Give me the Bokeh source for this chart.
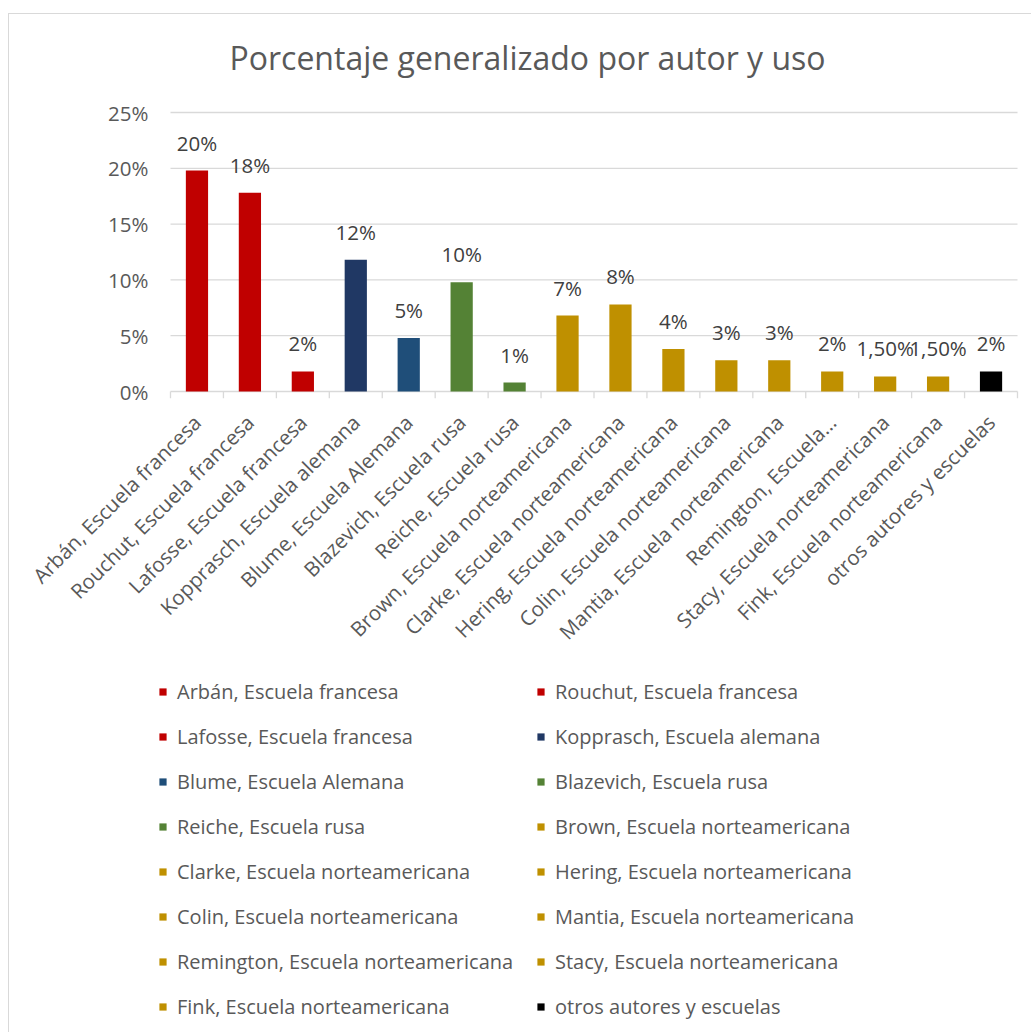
import math
from bokeh.plotting import figure
from bokeh.layouts import column
from bokeh.models import (ColumnDataSource, Range1d, FixedTicker, NumeralTickFormatter,
                          Legend, LegendItem, Label, InlineStyleSheet)
from bokeh.core.properties import value
from bokeh.embed import file_html
from bokeh.resources import INLINE

# ---------------- data ----------------
categories = [
    "Arbán, Escuela francesa",
    "Rouchut, Escuela francesa",
    "Lafosse, Escuela francesa",
    "Kopprasch, Escuela alemana",
    "Blume, Escuela Alemana",
    "Blazevich, Escuela rusa",
    "Reiche, Escuela rusa",
    "Brown, Escuela norteamericana",
    "Clarke, Escuela norteamericana",
    "Hering, Escuela norteamericana",
    "Colin, Escuela norteamericana",
    "Mantia, Escuela norteamericana",
    "Remington, Escuela norteamericana",
    "Stacy, Escuela norteamericana",
    "Fink, Escuela norteamericana",
    "otros autores y escuelas",
]
tick_labels = [
    "Arbán, Escuela francesa",
    "Rouchut, Escuela francesa",
    "Lafosse, Escuela francesa",
    "Kopprasch, Escuela alemana",
    "Blume, Escuela Alemana",
    "Blazevich, Escuela rusa",
    "Reiche, Escuela rusa",
    "Brown, Escuela norteamericana",
    "Clarke, Escuela norteamericana",
    "Hering, Escuela norteamericana",
    "Colin, Escuela norteamericana",
    "Mantia, Escuela norteamericana",
    "Remington, Escuela…",
    "Stacy, Escuela norteamericana",
    "Fink, Escuela norteamericana",
    "otros autores y escuelas",
]
values = [0.198, 0.178, 0.018, 0.118, 0.048, 0.098, 0.008, 0.068,
          0.078, 0.038, 0.028, 0.028, 0.018, 0.0135, 0.0135, 0.018]
value_labels = ["20%", "18%", "2%", "12%", "5%", "10%", "1%", "7%",
                "8%", "4%", "3%", "3%", "2%", "1,50%", "1,50%", "2%"]
colors = ["#C00000", "#C00000", "#C00000", "#203864", "#1F4E79", "#548235",
          "#548235", "#BF9000", "#BF9000", "#BF9000", "#BF9000", "#BF9000",
          "#BF9000", "#BF9000", "#BF9000", "#000000"]
y_ticks = [0, 0.05, 0.10, 0.15, 0.20, 0.25]
title_text = "Porcentaje generalizado por autor y uso"

# ---------------- layout constants ----------------
W, H = 1031, 1032
H1 = 665                      # chart figure height
H2 = H - H1                   # legend figure height
PLOT_L, PLOT_R = 170, 1017    # canvas x of first / last category boundary
LEFT, RIGHT, TOP = 157, 1, 14
FRAME_BOTTOM = 398
BOTTOM = H1 - FRAME_BOTTOM
n = len(categories)
px_per_cat = (PLOT_R - PLOT_L) / n
pad = (PLOT_L - LEFT) / px_per_cat
pad_r = ((W - RIGHT) - PLOT_R) / px_per_cat
px_per_unit = (391 - 112) / 0.25
y_min = -(FRAME_BOTTOM - 391) / px_per_unit
y_max = 0.25 + (112 - TOP) / px_per_unit

FONT = "Open Sans"
GREY = "#595959"
GRID = "#D9D9D9"
FS = "20.5px"

xs = list(range(n))
src = ColumnDataSource(dict(x=xs, cat=categories, val=values, lbl=value_labels, color=colors))
edges = [i - 0.5 for i in range(n + 1)]
tick_src = ColumnDataSource(dict(x=edges, y0=[0] * len(edges), y1=[y_min] * len(edges)))
grid_src = ColumnDataSource(dict(y=y_ticks, x0=[-0.5] * len(y_ticks),
                                 x1=[n - 0.5] * len(y_ticks)))

# ---------------- chart figure ----------------
p = figure(x_range=Range1d(-0.5 - pad, n - 0.5 + pad_r), y_range=Range1d(y_min, y_max),
           width=W, height=H1, output_backend="svg", toolbar_location=None,
           min_border_left=LEFT, min_border_right=RIGHT,
           min_border_top=TOP, min_border_bottom=BOTTOM)
p.outline_line_color = None
p.background_fill_color = "white"
p.border_fill_color = "white"
p.grid.visible = False

# horizontal gridlines spanning the category area only
p.segment(x0="x0", y0="y", x1="x1", y1="y", source=grid_src,
          line_color=GRID, line_width=1.3)
# category boundary tick marks
p.segment(x0="x", y0="y0", x1="x", y1="y1", source=tick_src,
          line_color=GRID, line_width=1.3)

p.yaxis.ticker = FixedTicker(ticks=y_ticks)
p.yaxis.formatter = NumeralTickFormatter(format="0%")
p.yaxis.axis_line_color = None
p.yaxis.major_tick_line_color = None
p.yaxis.minor_tick_line_color = None
p.yaxis.major_tick_out = 0
p.yaxis.major_label_standoff = 22 - (PLOT_L - LEFT)
p.yaxis.major_label_text_font = FONT
p.yaxis.major_label_text_font_size = FS
p.yaxis.major_label_text_color = GREY

p.xaxis.ticker = FixedTicker(ticks=xs)
p.xaxis.major_label_overrides = {i: t for i, t in zip(xs, tick_labels)}
p.xaxis.axis_line_color = None
p.xaxis.major_tick_line_color = None
p.xaxis.minor_tick_line_color = None
p.xaxis.major_tick_out = 0
p.xaxis.major_label_orientation = math.pi / 4
p.xaxis.major_label_standoff = 20
p.xaxis.major_label_text_font = FONT
p.xaxis.major_label_text_font_size = FS
p.xaxis.major_label_text_color = GREY

bars = p.vbar(x="x", top="val", width=0.42, source=src,
              fill_color="color", line_color=None)

p.text(x="x", y="val", text="lbl", source=src, text_align="center",
       text_baseline="middle", y_offset=-28, text_font=value(FONT),
       text_font_size=FS, text_color="#404040")

p.add_layout(Label(x=527 - LEFT, y=FRAME_BOTTOM - 57, x_units="screen", y_units="screen",
                   text=title_text, text_align="center", text_baseline="middle",
                   text_font=FONT, text_font_size="32px", text_color=GREY))

# ---------------- legend figure ----------------
p2 = figure(x_range=Range1d(-0.5 - pad, n - 0.5 + pad_r), y_range=Range1d(1, 2),
            width=W, height=H2, output_backend="svg", toolbar_location=None,
            x_axis_type=None, y_axis_type=None,
            min_border_left=LEFT, min_border_right=RIGHT, min_border_top=0, min_border_bottom=0)
p2.outline_line_color = None
p2.grid.visible = False
p2.background_fill_color = "white"
p2.border_fill_color = "white"
bars2 = p2.vbar(x="x", top="val", width=0.42, source=src,
                fill_color="color", line_color=None)

legend_top = 673.5 - H1
legend_h = 8 * 35 + 7 * 10
items = [LegendItem(label=c, renderers=[bars2], index=i) for i, c in enumerate(categories)]
legend = Legend(items=items, location=(158 - LEFT, H2 - legend_top - legend_h),
                orientation="horizontal", ncols=2,
                glyph_width=9, glyph_height=9, label_standoff=10, label_width=349,
                label_height=35, spacing=10, padding=0, margin=0,
                border_line_color=None, background_fill_alpha=0,
                label_text_font=FONT, label_text_font_size="20px",
                label_text_color=GREY)
p2.add_layout(legend)

border = InlineStyleSheet(css=""":host::after {
  content: ''; position: absolute; left: 8px; top: 13px; right: 0; bottom: 0;
  border-left: 1px solid #D9D9D9; border-top: 1px solid #D9D9D9;
  pointer-events: none; z-index: 5;
}""")
layout = column(p, p2, spacing=0, stylesheets=[border])

open("out.html", "w").write(file_html(layout, INLINE))
